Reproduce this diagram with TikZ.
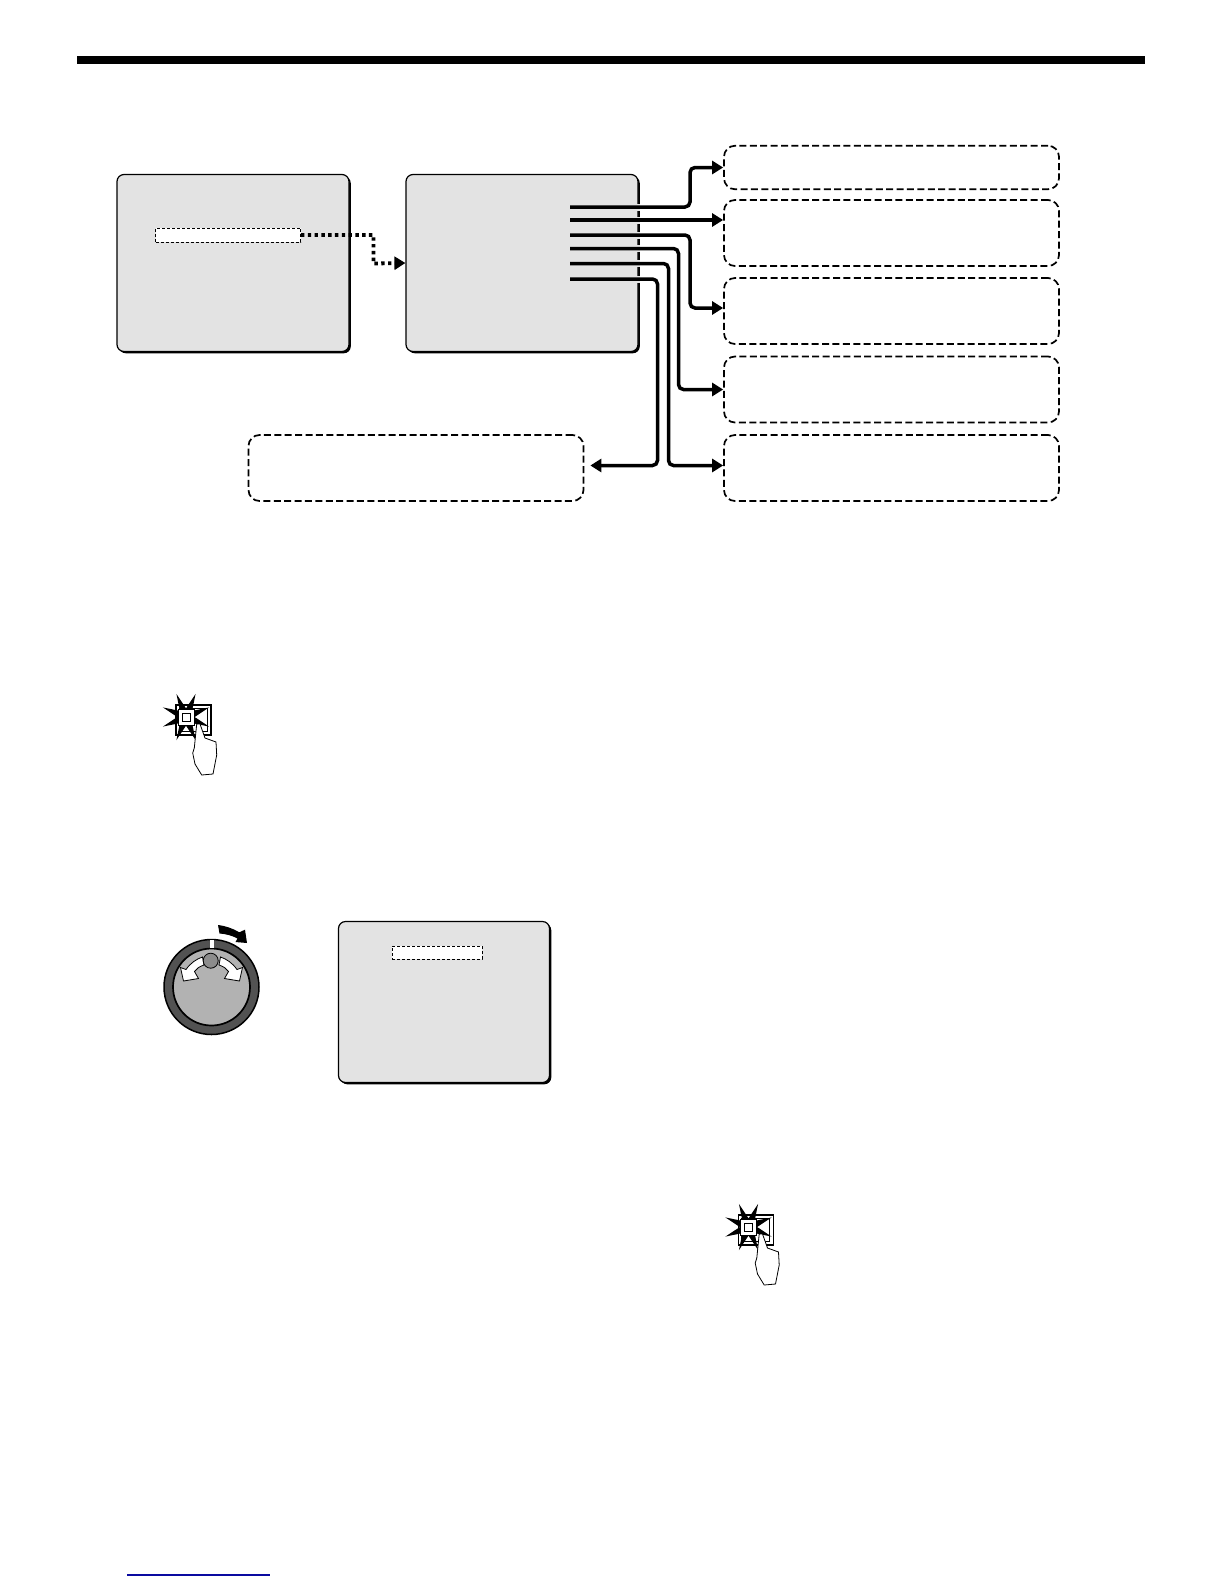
\documentclass[tikz,border=0pt]{standalone}
\usetikzlibrary{arrows.meta,shapes.geometric,shadows}
\definecolor{screengray}{gray}{0.89}
\definecolor{linkblue}{RGB}{10,10,160}
\tikzset{
    screenbox/.style={draw,line width=1.2pt,fill=screengray,rounded corners=7pt,inner sep=0pt,
        drop shadow={shadow xshift=1.8pt,shadow yshift=-1.8pt,fill=black,opacity=1}},
    menubox/.style={draw,line width=1.7pt,dash pattern=on 7pt off 3.4pt,rounded corners=11pt,inner sep=0pt},
    markbox/.style={draw,line width=.9pt,dash pattern=on 3pt off 2pt,fill=white,inner sep=0pt},
    wire/.style={line width=3.5pt,rounded corners=5pt,-{Triangle[length=11pt,width=13pt]}},
    halo/.style={line width=7pt,screengray},
    dots/.style={line width=3.8pt,dash pattern=on 3.4pt off 3.4pt,-{Triangle[length=11pt,width=13pt]}},
    flashhand/.pic={
        \draw[line width=1.8pt,fill=white] (-10,-12) rectangle (25,18);
        \draw[line width=.8pt] (-7,-9) rectangle (21,14);
        \node[star,star points=8,star point ratio=2.9,shape border rotate=22.5,fill=black,minimum size=50pt,inner sep=0pt] (burst) at (0,0) {};
        \node[draw,line width=.9pt,fill=white,minimum size=16pt,inner sep=0pt] (lamp) at (0,0) {};
        \node[draw,line width=.9pt,minimum size=8pt,inner sep=0pt] (dot) at (0,0) {};
        \draw[line width=.8pt,fill=white] (10.7,7) -- (8.3,31) -- (6.7,36) -- (9,47) -- (15.7,58) -- (27,57) -- (30.7,38) -- (30,25) -- (19,21) -- (14,7) -- cycle;
    }
}
\begin{document}
\begin{tikzpicture}[x=1pt,y=-1pt]
    \useasboundingbox (0,0) rectangle (1224,1584);
    % page rules
    \fill (77,56) rectangle (1145,64);
    \draw[linkblue,line width=1.2pt] (127,1575) -- (270,1575);

    % screens
    \node[screenbox,minimum width=232pt,minimum height=177pt] (menu) at (233,263) {};
    \node[screenbox,minimum width=232pt,minimum height=177pt] (setup) at (522,263) {};
    \node[screenbox,minimum width=211pt,minimum height=161pt] (title) at (444,1002) {};
    \node[markbox,minimum width=145pt,minimum height=14pt] (item) at (228,235) {};
    \node[markbox,minimum width=90pt,minimum height=13pt] (field) at (437,952.5) {};

    % dashed boxes
    \node[menubox,minimum width=335pt,minimum height=43.5pt] (mode) at (891.5,167.5) {};
    \node[menubox,minimum width=335pt,minimum height=66pt] (level) at (891.5,233) {};
    \node[menubox,minimum width=335pt,minimum height=66pt] (shutter) at (891.5,311) {};
    \node[menubox,minimum width=335pt,minimum height=66pt] (white) at (891.5,389.5) {};
    \node[menubox,minimum width=335pt,minimum height=66pt] (sync) at (891.5,468) {};
    \node[menubox,minimum width=335pt,minimum height=66pt] (iris) at (416,468) {};

    % wires out of the setup screen
    \coordinate (w1) at (570,207);
    \coordinate (w2) at (570,220);
    \coordinate (w3) at (570,235);
    \coordinate (w4) at (570,248.5);
    \coordinate (w5) at (570,263.5);
    \coordinate (w6) at (570,279);
    \foreach \n in {1,...,6}
        \draw[halo] (w\n) ++(50,0) -- ++(20,0);
    \draw[wire] (w1) -- (690,207) |- (mode.west);
    \draw[wire] (w2) -- (level.west|-w2);
    \draw[wire] (w3) -- (690,235) |- ([yshift=3pt]shutter.west);
    \draw[wire] (w4) -- (678.5,248.5) |- (white.west);
    \draw[wire] (w5) -- (668.5,263.5) |- ([yshift=2.5pt]sync.west);
    \draw[wire] (w6) -- (657.5,279) |- ([yshift=2.5pt,xshift=6pt]iris.east);

    \draw[dots] (item.east) -| (373.5,263.5) -- (setup.west);

    % push button signs
    \pic (push1) at (186,717) {flashhand};
    \pic (push2) at (748.5,1227) {flashhand};

    % dial
    \node[circle,draw,line width=1.5pt,fill=black!68,minimum size=95pt,inner sep=0pt] (ring) at (211.5,987) {};
    \node[circle,draw,line width=1.7pt,fill=black!30,minimum size=77pt,inner sep=0pt] (face) at (ring.center) {};
    \fill[white] (209.5,939.5) rectangle (213.5,948);
    \foreach \s in {1,-1}
        \draw[line width=.8pt,fill=white,shift={(211.5,987)},xscale=\s] (-9,-30) -- (-7.5,-22)
            .. controls (-12,-20.5) and (-15,-18.5) .. (-17,-15.5) -- (-13,-8.5) -- (-28,-6) -- (-31,-19.5) -- (-25.5,-17.5)
            .. controls (-21,-24) and (-15,-28) .. cycle;
    \node[circle,draw,line width=.8pt,fill=black!45,minimum size=15pt,inner sep=0pt] (hub) at (210.7,960.7) {};
    \fill (218,925) .. controls (226,926) and (233,928.5) .. (239.3,932.3) -- (245,929.7) -- (247,943) -- (235.5,942) -- (237.5,938.5)
        .. controls (232,935.5) and (226,934) .. (219.5,933.5) -- cycle;
\end{tikzpicture}
\end{document}
